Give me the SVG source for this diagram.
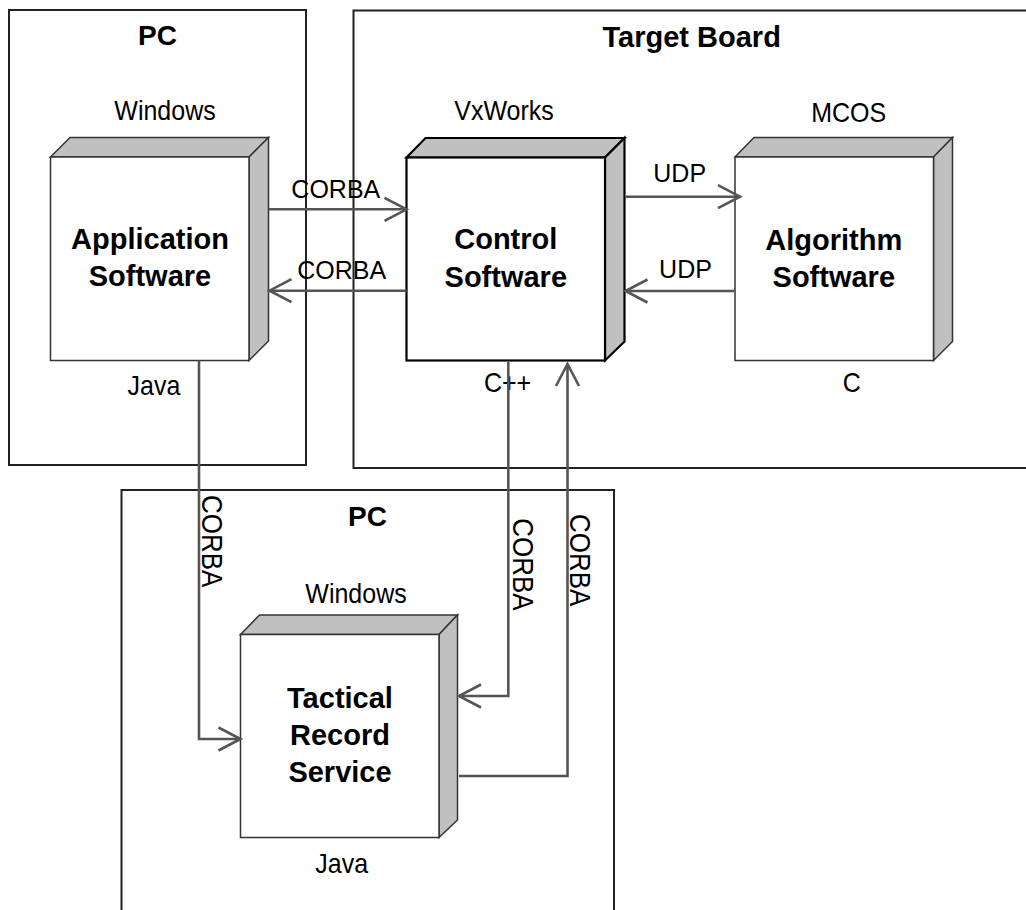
<svg xmlns="http://www.w3.org/2000/svg" width="1026" height="910" viewBox="0 0 1026 910">
  <defs>
    <style>
      .frame { fill: none; stroke: #222; stroke-width: 2; }
      .face { fill: #fff; stroke: #333; stroke-width: 1.5; }
      .shade { fill: #c0c0c0; stroke: #333; stroke-width: 1.5; stroke-linejoin: miter; }
      .active .face, .active .shade { stroke: #000; stroke-width: 2.2; }
      .title { font-family: "Liberation Sans", Arial, sans-serif; font-weight: bold; font-size: 28px; fill: #000; text-anchor: middle; }
      .name { font-family: "Liberation Sans", Arial, sans-serif; font-weight: bold; font-size: 29px; fill: #000; text-anchor: middle; }
      .tag { font-family: "Liberation Sans", Arial, sans-serif; font-size: 25px; fill: #000; text-anchor: middle; }
      .vtag { font-family: "Liberation Sans", Arial, sans-serif; font-size: 26px; fill: #000; }
      .link { fill: none; stroke: #555; stroke-width: 2.6; marker-end: url(#open); }
    </style>
    <marker id="open" markerUnits="userSpaceOnUse" markerWidth="30" markerHeight="30" viewBox="-26 -15 30 30" refX="0" refY="0" orient="auto">
      <path d="M-22,-11.5 L0,0 L-22,11.5" fill="none" stroke="#555" stroke-width="2.6"/>
    </marker>
  </defs>

  <!-- deployment frames -->
  <g id="pc-left">
    <rect class="frame" x="9" y="10" width="297" height="455"/>
    <text class="title" x="157.5" y="45">PC</text>
  </g>
  <g id="target-board">
    <rect class="frame" x="353.5" y="10.5" width="690" height="457.5"/>
    <text class="title" x="691.7" y="47.3" style="font-size:29px">Target Board</text>
  </g>
  <g id="pc-bottom">
    <rect class="frame" x="121.5" y="490" width="492.5" height="440"/>
    <text class="title" x="367.5" y="526">PC</text>
  </g>

  <!-- software nodes -->
  <g id="application-software">
    <polygon class="shade" points="50.5,157 70,137.5 268.5,137.5 249,157"/>
    <polygon class="shade" points="249,157 268.5,137.5 268.5,341 249,360.5"/>
    <rect class="face" x="50.5" y="157" width="198.5" height="203.5"/>
    <text class="name" x="150" y="249.3">Application</text>
    <text class="name" x="150" y="285.7">Software</text>
    <text class="tag" transform="translate(165,120) scale(1,1.1)">Windows</text>
    <text class="tag" transform="translate(154,395) scale(1,1.1)">Java</text>
  </g>

  <g id="control-software" class="active">
    <polygon class="shade" points="406.5,157.5 425.5,138 624.5,138 605,157.5"/>
    <polygon class="shade" points="605,157.5 624.5,138 624.5,341.5 605,360.5"/>
    <rect class="face" x="406.5" y="157.5" width="198.5" height="203"/>
    <text class="name" x="505.8" y="249.3">Control</text>
    <text class="name" x="505.8" y="286.7">Software</text>
    <text class="tag" transform="translate(504,120) scale(1,1.1)">VxWorks</text>
    <text class="tag" transform="translate(507.5,391.7) scale(1,1.1)">C++</text>
  </g>

  <g id="algorithm-software">
    <polygon class="shade" points="735,157 754,137.5 952.5,137.5 933.5,157"/>
    <polygon class="shade" points="933.5,157 952.5,137.5 952.5,341.5 933.5,360.5"/>
    <rect class="face" x="735" y="157" width="198.5" height="203.5"/>
    <text class="name" x="833.8" y="250">Algorithm</text>
    <text class="name" x="833.8" y="286.7">Software</text>
    <text class="tag" transform="translate(848.7,121.7) scale(1,1.1)">MCOS</text>
    <text class="tag" transform="translate(851.7,391.7) scale(1,1.1)">C</text>
  </g>

  <g id="tactical-record-service">
    <polygon class="shade" points="240.5,634.5 259.5,615 457.5,615 439,634.5"/>
    <polygon class="shade" points="439,634.5 457.5,615 457.5,820 439,837.5"/>
    <rect class="face" x="240.5" y="634.5" width="198.5" height="203"/>
    <text class="name" x="340" y="708.3">Tactical</text>
    <text class="name" x="340" y="745">Record</text>
    <text class="name" x="340" y="781.7">Service</text>
    <text class="tag" transform="translate(356,603.3) scale(1,1.1)">Windows</text>
    <text class="tag" transform="translate(341.7,873) scale(1,1.1)">Java</text>
  </g>

  <!-- connectors -->
  <g id="connectors">
    <path class="link" d="M269,209.3 H406.5"/>
    <path class="link" d="M406.5,290.7 H269.5"/>
    <path class="link" d="M625,196.7 H740"/>
    <path class="link" d="M735,291 H625.5"/>
    <path class="link" d="M199,360.5 V739 H240.5"/>
    <path class="link" d="M508.3,362 V696 H459"/>
    <path class="link" d="M459,776 H567.5 V364"/>

    <text class="tag" x="335.8" y="198.3">CORBA</text>
    <text class="tag" x="341.7" y="279.3">CORBA</text>
    <text class="tag" x="679.7" y="181.7">UDP</text>
    <text class="tag" x="685.5" y="278.3">UDP</text>
    <text class="vtag" transform="translate(202,495) rotate(90) scale(1,1.15)">CORBA</text>
    <text class="vtag" transform="translate(512.7,518.3) rotate(90) scale(1,1.15)">CORBA</text>
    <text class="vtag" transform="translate(570,514) rotate(90) scale(1,1.15)">CORBA</text>
  </g>
</svg>
